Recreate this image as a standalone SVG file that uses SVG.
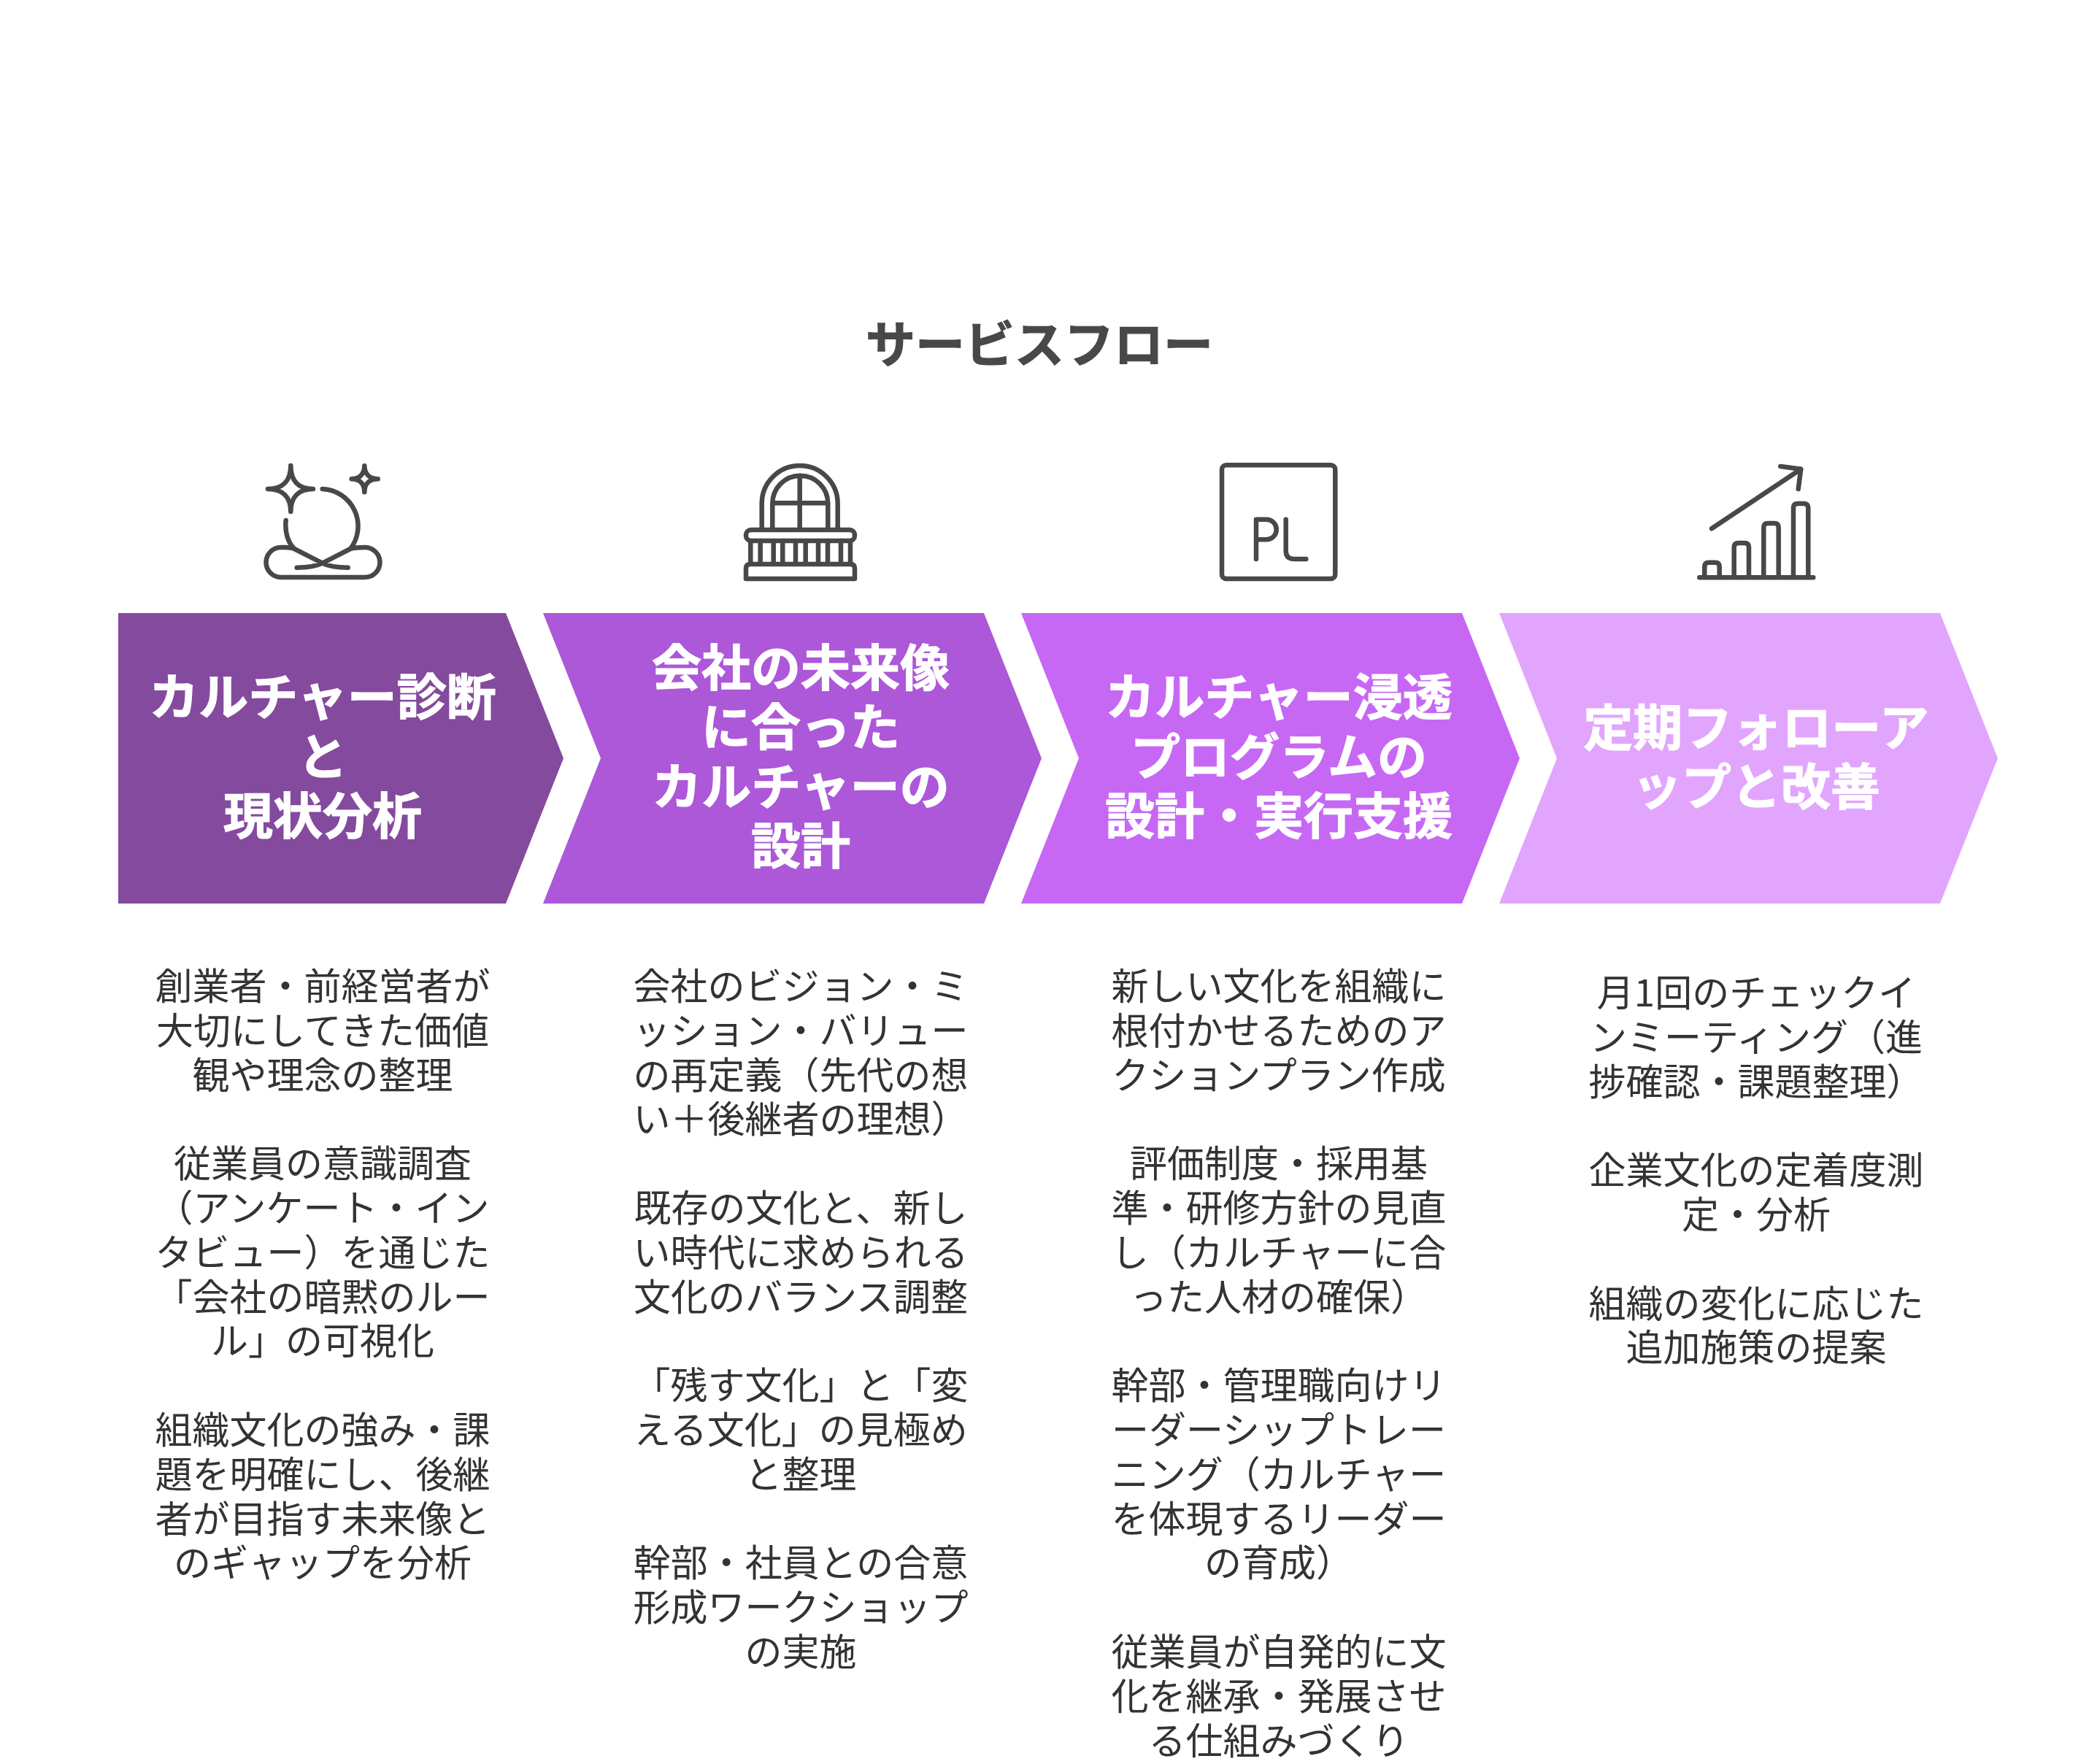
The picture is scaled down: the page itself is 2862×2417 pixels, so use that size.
<svg xmlns="http://www.w3.org/2000/svg" width="2862" height="2417" viewBox="0 0 2862 2417">
<style>
text{font-family:"Noto Sans CJK JP","Noto Sans",sans-serif;text-anchor:middle}
.t{font-size:68px;font-weight:700;fill:#484848;stroke:#484848;stroke-width:1.2}
.h{font-size:68px;font-weight:700;fill:#fff;stroke:#fff;stroke-width:1.2}
.b{font-size:51px;font-weight:400;fill:#333}
.i{fill:none;stroke:#484848;stroke-width:6.5;stroke-linecap:round;stroke-linejoin:round}
</style>
<rect width="2862" height="2417" fill="#fff"/>
<text id="title" class="t" x="1424" y="497">サービスフロー</text>
<g id="connectors"></g>
<g id="step1">
<path d="M162 840H693L772 1039L693 1238H162Z" fill="#844A9E"/>
<path class="i" d="M398.3 638C398.3 658 388 670 367 670C388 670 398.3 682 398.3 701C398.3 682 408 670 429 670C408 670 398.3 658 398.3 638Z"/>
<path class="i" d="M499.3 638.3C499.3 649 493 656.3 481.7 656.3C493 656.3 499.3 663 499.3 674.3C499.3 663 506 656.3 517.7 656.3C506 656.3 499.3 649 499.3 638.3Z"/>
<path class="i" d="M441.7 670A51 51 0 0 1 480 752M391.7 713C390 728 394 743 403.3 752M476.7 777.7C460 777.7 450 776 441.7 771.7L403.3 752C397 749 390 750 385 750A20.5 20.5 0 0 0 385 791H500A20.5 20.5 0 0 0 500 750C492 750 486 750 480 752L441.7 771.7C433 776 423 777.7 406.7 777.7"/>
<text class="h" x="442" y="980">カルチャー診断</text>
<text class="h" x="442" y="1061.5">と</text>
<text class="h" x="442" y="1143">現状分析</text>
<text class="b" x="442" y="1370">創業者・前経営者が<tspan x="442" dy="60.8">大切にしてきた価値</tspan><tspan x="442" dy="60.8">観や理念の整理</tspan><tspan x="442" dy="121.6">従業員の意識調査</tspan><tspan x="442" dy="60.8">（アンケート・イン</tspan><tspan x="442" dy="60.8">タビュー）を通じた</tspan><tspan x="442" dy="60.8">「会社の暗黙のルー</tspan><tspan x="442" dy="60.8">ル」の可視化</tspan><tspan x="442" dy="121.6">組織文化の強み・課</tspan><tspan x="442" dy="60.8">題を明確にし、後継</tspan><tspan x="442" dy="60.8">者が目指す未来像と</tspan><tspan x="442" dy="60.8">のギャップを分析</tspan></text>
</g>
<g id="step2">
<path d="M744 840H1348L1427 1039L1348 1238H744L823 1039Z" fill="#AC58D8"/>
<path class="i" d="M1043.7 725V690A52 52 0 0 1 1147.7 690V725M1058.3 725V689.7A38 38 0 0 1 1134.3 689.7V725M1095.7 651.7V725M1058.3 689.3H1134.3"/>
<rect class="i" x="1022" y="726" width="149" height="15" rx="7"/>
<path class="i" d="M1028.3 741V772M1041.7 741V772M1059.7 741V772M1072.3 741V772M1090 741V772M1103.7 741V772M1121 741V772M1134 741V772M1152 741V772M1165 741V772"/>
<path class="i" d="M1028 773H1165Q1171 773 1171 779V793H1022V779Q1022 773 1028 773Z"/>
<text class="h" x="1097" y="939.5">会社の未来像</text>
<text class="h" x="1097" y="1021">に合った</text>
<text class="h" x="1097" y="1102.5">カルチャーの</text>
<text class="h" x="1097" y="1184">設計</text>
<text class="b" x="1097" y="1370">会社のビジョン・ミ<tspan x="1097" dy="60.8">ッション・バリュー</tspan><tspan x="1097" dy="60.8">の再定義（先代の想</tspan><tspan x="1097" dy="60.8">い＋後継者の理想）</tspan><tspan x="1097" dy="121.6">既存の文化と、新し</tspan><tspan x="1097" dy="60.8">い時代に求められる</tspan><tspan x="1097" dy="60.8">文化のバランス調整</tspan><tspan x="1097" dy="121.6">「残す文化」と「変</tspan><tspan x="1097" dy="60.8">える文化」の見極め</tspan><tspan x="1097" dy="60.8">と整理</tspan><tspan x="1097" dy="121.6">幹部・社員との合意</tspan><tspan x="1097" dy="60.8">形成ワークショップ</tspan><tspan x="1097" dy="60.8">の実施</tspan></text>
</g>
<g id="step3">
<path d="M1399 840H2003L2082 1039L2003 1238H1399L1478 1039Z" fill="#C768F5"/>
<rect class="i" x="1674" y="637.3" width="155.3" height="155.7" rx="6"/>
<path class="i" d="M1721 766V711.7H1735A13.8 13.8 0 0 1 1735 739.3H1721M1761.7 711.7V755Q1761.7 766 1773 766H1789.3"/>
<text class="h" x="1752" y="980">カルチャー浸透</text>
<text class="h" x="1752" y="1061.5">プログラムの</text>
<text class="h" x="1752" y="1143">設計・実行支援</text>
<text class="b" x="1752" y="1370">新しい文化を組織に<tspan x="1752" dy="60.8">根付かせるためのア</tspan><tspan x="1752" dy="60.8">クションプラン作成</tspan><tspan x="1752" dy="121.6">評価制度・採用基</tspan><tspan x="1752" dy="60.8">準・研修方針の見直</tspan><tspan x="1752" dy="60.8">し（カルチャーに合</tspan><tspan x="1752" dy="60.8">った人材の確保）</tspan><tspan x="1752" dy="121.6">幹部・管理職向けリ</tspan><tspan x="1752" dy="60.8">ーダーシップトレー</tspan><tspan x="1752" dy="60.8">ニング（カルチャー</tspan><tspan x="1752" dy="60.8">を体現するリーダー</tspan><tspan x="1752" dy="60.8">の育成）</tspan><tspan x="1752" dy="121.6">従業員が自発的に文</tspan><tspan x="1752" dy="60.8">化を継承・発展させ</tspan><tspan x="1752" dy="60.8">る仕組みづくり</tspan></text>
</g>
<g id="step4">
<path d="M2054 840H2658L2737 1039L2658 1238H2054L2133 1039Z" fill="#E2A5FD"/>
<path class="i" d="M2328.3 791.3H2484.3M2335.3 791V776.7Q2335.3 770.7 2341 770.7H2350Q2355.7 770.7 2355.7 776.7V791M2375.7 791V750Q2375.7 744 2382 744H2390Q2396 744 2396 750V791M2416.3 791V723Q2416.3 717 2422 717H2431Q2436.7 717 2436.7 723V791M2457 791V696Q2457 690 2463 690H2471Q2477.3 690 2477.3 696V791M2345 724.3L2467.3 642.7M2439.3 639L2467.3 642.7L2463.7 670"/>
<text class="h" x="2406" y="1021.5">定期フォローア</text>
<text class="h" x="2406" y="1103">ップと改善</text>
<text class="b" x="2406" y="1379">月1回のチェックイ<tspan x="2406" dy="60.8">ンミーティング（進</tspan><tspan x="2406" dy="60.8">捗確認・課題整理）</tspan><tspan x="2406" dy="121.6">企業文化の定着度測</tspan><tspan x="2406" dy="60.8">定・分析</tspan><tspan x="2406" dy="121.6">組織の変化に応じた</tspan><tspan x="2406" dy="60.8">追加施策の提案</tspan></text>
</g>
</svg>
